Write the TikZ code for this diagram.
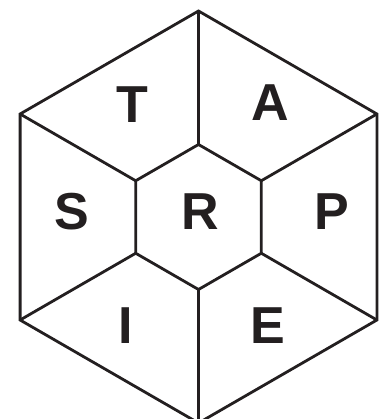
\documentclass[tikz,border=0pt]{standalone}
\usepackage{fontspec}
\setmainfont{Liberation Sans}
\definecolor{ink}{HTML}{231F20}
\begin{document}
\begin{tikzpicture}[x=1pt,y=-1pt,
  edge/.style={draw=ink,line width=2.8pt,line join=miter},
  letter/.style={text=ink,inner sep=0pt,text height=37.5pt,text depth=0pt,
    font=\fontsize{52}{52}\selectfont\bfseries}]
\useasboundingbox (0,0) rectangle (379,419);
\clip (0,0) rectangle (379,419);
% outer vertices
\coordinate (o1) at (198.5,11);
\coordinate (o2) at (376.9,114);
\coordinate (o3) at (376.9,320);
\coordinate (o4) at (198.5,423);
\coordinate (o5) at (20.1,320);
\coordinate (o6) at (20.1,114);
% inner vertices
\coordinate (i1) at (198.5,144.5);
\coordinate (i2) at (261.3,180.75);
\coordinate (i3) at (261.3,253.25);
\coordinate (i4) at (198.5,289.5);
\coordinate (i5) at (135.7,253.25);
\coordinate (i6) at (135.7,180.75);
\draw[edge] (o1) -- (o2) -- (o3) -- (o4) -- (o5) -- (o6) -- cycle;
\draw[edge] (i1) -- (i2) -- (i3) -- (i4) -- (i5) -- (i6) -- cycle;
\foreach \k in {1,...,6} \draw[edge] (o\k) -- (i\k);
\node[letter] (T) at (132.5,103.5) {T};
\node[letter] (A) at (270,101.5) {A};
\node[letter] (S) at (72,211) {S};
\node[letter] (R) at (200,210.5) {R};
\node[letter] (P) at (331.5,211) {P};
\node[letter] (I) at (126,324.5) {I};
\node[letter] (E) at (268,325) {E};
\end{tikzpicture}
\end{document}
